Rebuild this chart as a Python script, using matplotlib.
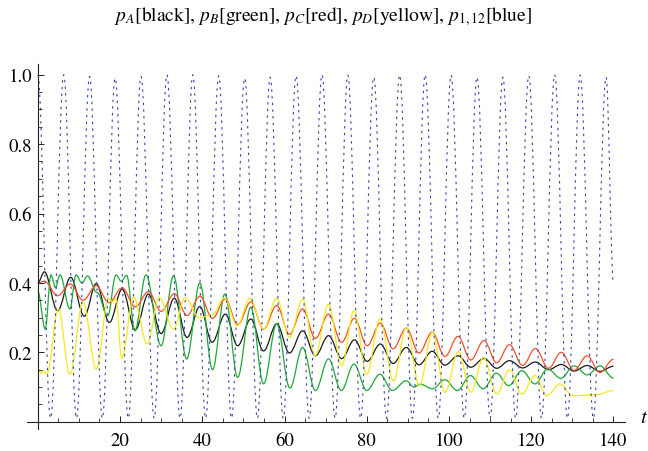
import numpy as np
import matplotlib
matplotlib.use("Agg")
import matplotlib.pyplot as plt
from matplotlib.path import Path
from matplotlib.patches import PathPatch
from matplotlib.ticker import MultipleLocator

plt.rcParams['font.family'] = 'STIXGeneral'
plt.rcParams['mathtext.fontset'] = 'stix'

# extrema (t, value), per curve
t_black = [0.0, 1.6, 4.8, 8.0, 11.3, 14.2, 17.4, 20.5, 23.7, 26.9, 30.0, 33.2, 36.3, 39.4, 42.4,
           45.6, 48.6, 51.8, 54.9, 58.1, 61.2, 64.4, 67.5, 70.7, 73.9, 77.0, 80.1, 83.3, 86.4,
           89.6, 92.7, 95.9, 99.0, 102.2, 105.3, 108.5, 111.6, 114.7, 117.9, 121.0, 124.2,
           127.3, 130.4, 133.6, 136.7, 140.0]
v_black = [0.40, 0.432, 0.32, 0.416, 0.304, 0.398, 0.286, 0.382, 0.265, 0.368, 0.254, 0.356, 0.243,
           0.332, 0.229, 0.310, 0.219, 0.296, 0.204, 0.282, 0.198, 0.262, 0.19, 0.248, 0.182,
           0.236, 0.174, 0.224, 0.168, 0.214, 0.164, 0.203, 0.163, 0.19, 0.157, 0.182, 0.154,
           0.176, 0.155, 0.172, 0.15, 0.165, 0.146, 0.162, 0.145, 0.16]

t_red = [0.0, 1.6, 4.8, 7.9, 11.0, 14.2, 17.3, 20.5, 23.7, 26.9, 30.0, 33.2, 36.3, 39.4, 42.5,
         45.6, 48.6, 51.8, 54.9, 58.1, 61.2, 64.4, 67.5, 70.7, 73.9, 77.0, 80.1, 83.3, 86.4,
         89.6, 92.7, 95.9, 99.0, 102.2, 105.3, 108.5, 111.6, 114.7, 117.9, 121.0, 124.2,
         127.3, 130.4, 133.6, 136.7, 140.0]
v_red = [0.40, 0.405, 0.363, 0.397, 0.35, 0.392, 0.343, 0.386, 0.331, 0.375, 0.318, 0.369, 0.306,
         0.362, 0.298, 0.354, 0.28, 0.345, 0.267, 0.335, 0.252, 0.325, 0.24, 0.31, 0.229, 0.298,
         0.219, 0.284, 0.21, 0.27, 0.198, 0.258, 0.188, 0.246, 0.178, 0.234, 0.17, 0.222, 0.162,
         0.211, 0.154, 0.2, 0.148, 0.19, 0.142, 0.18]

t_green = [0.0, 1.8, 3.2, 4.3, 5.4, 7.8, 9.3, 10.7, 12.1, 14.4, 17.0, 19.0, 20.3, 21.6, 23.6,
           26.3, 30.0, 33.0, 36.2, 39.4, 42.5, 45.5, 48.6, 51.8, 54.9, 58.1, 61.3, 64.4, 67.5,
           70.7, 73.8, 76.9, 80.0, 83.2, 86.2, 89.6, 91.5, 93.0, 96.0, 99.0, 102.0, 105.2,
           108.3, 111.5, 114.5, 117.7, 120.9, 124.0, 127.2, 130.4, 133.6, 136.7, 140.0]
v_green = [0.375, 0.267, 0.423, 0.387, 0.423, 0.325, 0.423, 0.40, 0.42, 0.372, 0.305, 0.423, 0.405,
           0.422, 0.262, 0.423, 0.219, 0.42, 0.181, 0.40, 0.15, 0.368, 0.128, 0.33, 0.109, 0.282,
           0.097, 0.214, 0.09, 0.181, 0.09, 0.166, 0.09, 0.137, 0.09, 0.118, 0.10, 0.108, 0.095,
           0.121, 0.09, 0.133, 0.095, 0.14, 0.104, 0.147, 0.109, 0.152, 0.125, 0.161, 0.135,
           0.161, 0.126]

t_yellow = [0.0, 0.8, 1.3, 2.2, 5.0, 7.8, 11.0, 14.2, 17.2, 18.2, 19.0, 20.4, 23.3, 26.6, 29.5,
            33.0, 35.8, 39.3, 42.3, 45.4, 48.5, 51.6, 54.9, 58.1, 61.2, 64.4, 67.4, 70.7, 73.9,
            76.9, 80.0, 83.2, 86.5, 89.6, 92.8, 96.0, 99.0, 102.3, 105.3, 108.4, 111.6, 114.7,
            117.7, 120.9, 123.8, 127.0, 130.0, 136.0, 140.0]
v_yellow = [0.152, 0.14, 0.148, 0.137, 0.325, 0.136, 0.344, 0.152, 0.356, 0.345, 0.355, 0.183,
            0.358, 0.224, 0.358, 0.267, 0.357, 0.30, 0.307, 0.356, 0.277, 0.356, 0.267, 0.356,
            0.243, 0.353, 0.19, 0.339, 0.161, 0.32, 0.137, 0.296, 0.118, 0.272, 0.104, 0.258,
            0.085, 0.202, 0.085, 0.185, 0.08, 0.15, 0.08, 0.133, 0.075, 0.109, 0.075, 0.078, 0.09]

t_blue = [0.0, 3.1, 6.3, 9.4, 12.6, 15.7, 18.8, 22.0, 25.1, 28.3, 31.4, 34.6, 37.7, 40.8, 44.0,
          47.1, 50.3, 53.4, 56.5, 59.7, 62.8, 66.0, 69.1, 72.3, 75.4, 78.5, 81.7, 84.8, 88.0,
          91.1, 94.2, 97.4, 100.5, 103.7, 106.8, 110.0, 113.1, 116.2, 119.4, 122.5, 125.7,
          128.8, 131.9, 135.1, 138.2, 140.0]
v_blue = [1.0, 0.01, 1.0, 0.01, 0.995, 0.01, 0.99, 0.01, 0.995, 0.01, 1.0, 0.01, 1.0, 0.01, 0.997,
          0.01, 0.99, 0.01, 0.993, 0.01, 0.997, 0.01, 1.0, 0.01, 0.999, 0.01, 0.993, 0.01, 0.999,
          0.01, 1.0, 0.01, 0.999, 0.01, 0.993, 0.01, 0.993, 0.01, 0.997, 0.01, 1.0, 0.01, 0.999,
          0.01, 0.993, 0.40]


def smooth_path(ts, vs):
    # cubic segments between extrema, flat tangents at each extremum
    verts = [(ts[0], vs[0])]
    codes = [Path.MOVETO]
    for i in range(len(ts) - 1):
        d = ts[i + 1] - ts[i]
        verts += [(ts[i] + 0.364 * d, vs[i]), (ts[i + 1] - 0.364 * d, vs[i + 1]), (ts[i + 1], vs[i + 1])]
        codes += [Path.CURVE4] * 3
    return Path(verts, codes)


fig = plt.figure(figsize=(6.48, 4.52), dpi=100)
ax = fig.add_axes([27 / 648, 1 - 430 / 452, 598 / 648, 365 / 452])

curves = [
    (t_black, v_black, '#1a1a1a', '-', 0.9),
    (t_green, v_green, '#1ea83a', '-', 0.9),
    (t_red, v_red, '#f0502a', '-', 0.9),
    (t_yellow, v_yellow, '#f7e81c', '-', 0.9),
    (t_blue, v_blue, '#3846a6', (0, (2.2, 3.8)), 0.8),
]
for ts, vs, col, ls, lw in curves:
    ax.add_patch(PathPatch(smooth_path(ts, vs), fill=False, edgecolor=col, lw=lw, linestyle=ls))

ax.set_xlim(-2.63, 142.8)
ax.set_ylim(-0.021, 1.031)

for s in ['top', 'right']:
    ax.spines[s].set_visible(False)
ax.spines['left'].set_position(('data', 0))
ax.spines['bottom'].set_position(('data', 0))
for s in ['left', 'bottom']:
    ax.spines[s].set_linewidth(0.8)
    ax.spines[s].set_color('#222222')

ax.xaxis.set_major_locator(MultipleLocator(20))
ax.xaxis.set_minor_locator(MultipleLocator(5))
ax.yaxis.set_major_locator(MultipleLocator(0.2))
ax.yaxis.set_minor_locator(MultipleLocator(0.05))
ax.set_xticks([20, 40, 60, 80, 100, 120, 140])
ax.set_yticks([0.2, 0.4, 0.6, 0.8, 1.0])
ax.set_yticklabels(['0.2', '0.4', '0.6', '0.8', '1.0'])
ax.tick_params(which='major', direction='in', length=4.5, width=0.7, labelsize=13.5, color='#222222')
ax.tick_params(which='minor', direction='in', length=3, width=0.6, color='#222222')
ax.tick_params(axis='x', pad=7)
ax.tick_params(axis='y', pad=4)
ax.patch.set_alpha(0)

fig.text(643 / 648, 1 - 418 / 452, 't', style='italic', fontsize=15, ha='center', va='center')

title = (r'$p_A$[black], $p_B$[green], $p_C$[red], $p_D$[yellow], $p_{1,12}$[blue]')
fig.text(0.498, 1 - 17 / 452, title, ha='center', va='center', fontsize=14)

fig.savefig('out.png', dpi=100)
